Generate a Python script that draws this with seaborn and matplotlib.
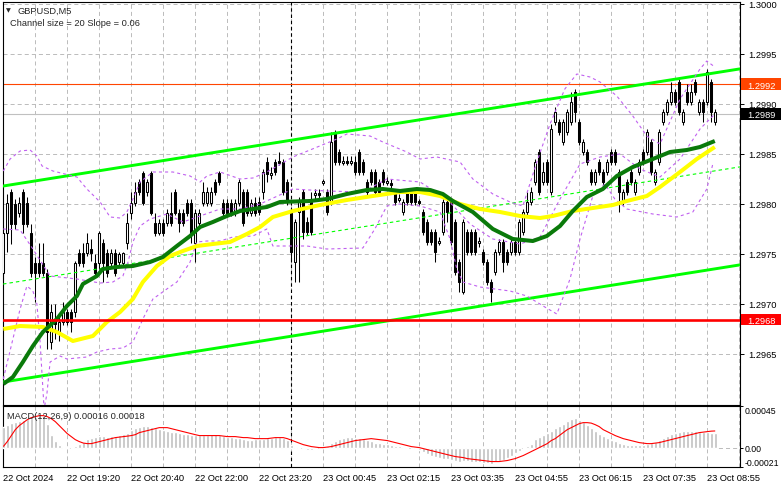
import numpy as np
import matplotlib
matplotlib.use("Agg")
import matplotlib.pyplot as plt
import matplotlib.transforms as mtransforms
from matplotlib.patches import Rectangle
import seaborn as sns

# ---------------- data (GBPUSD M5) ----------------
OPEN = [1.29731, 1.29771, 1.29812, 1.29800, 1.29791, 1.29812, 1.29801, 1.29771, 1.29741, 1.29741,
        1.29741, 1.29731, 1.29662, 1.29685, 1.29670, 1.29682, 1.29692, 1.29692, 1.29692, 1.29751,
        1.29751, 1.29751, 1.29755, 1.29741, 1.29741, 1.29761, 1.29751, 1.29741, 1.29751, 1.29742,
        1.29741, 1.29761, 1.29791, 1.29801, 1.29822, 1.29831, 1.29812, 1.29831, 1.29781, 1.29771,
        1.29781, 1.29781, 1.29791, 1.29812, 1.29791, 1.29791, 1.29801, 1.29801, 1.29761, 1.29781,
        1.29801, 1.29801, 1.29801, 1.29822, 1.29831, 1.29801, 1.29801, 1.29801, 1.29791, 1.29801,
        1.29812, 1.29812, 1.29791, 1.29801, 1.29802, 1.29812, 1.29842, 1.29829, 1.29842, 1.29843,
        1.29842, 1.29822, 1.29792, 1.29742, 1.29792, 1.29812, 1.29782, 1.29802, 1.29809, 1.29811,
        1.29821, 1.29812, 1.29802, 1.29872, 1.29852, 1.29841, 1.29843, 1.29841, 1.29842, 1.29852,
        1.29842, 1.29822, 1.29832, 1.29832, 1.29822, 1.29832, 1.29821, 1.29821, 1.29812, 1.29804,
        1.29792, 1.29812, 1.29812, 1.29812, 1.29803, 1.29792, 1.29782, 1.29772, 1.29772, 1.29761,
        1.29772, 1.29802, 1.29802, 1.29782, 1.29742, 1.29712, 1.29772, 1.29772, 1.29772, 1.29761,
        1.29752, 1.29742, 1.29722, 1.29732, 1.29752, 1.29762, 1.29752, 1.29752, 1.29762, 1.29752,
        1.29772, 1.29792, 1.29802, 1.29822, 1.29852, 1.29822, 1.29842, 1.29812, 1.29882, 1.29882,
        1.29862, 1.29872, 1.29882, 1.29912, 1.29882, 1.29852, 1.29852, 1.29832, 1.29822, 1.29842,
        1.29832, 1.29832, 1.29852, 1.29852, 1.29832, 1.29802, 1.29822, 1.29832, 1.29812, 1.29832,
        1.29852, 1.29852, 1.29862, 1.29822, 1.29842, 1.29882, 1.29892, 1.29902, 1.29912, 1.29922,
        1.29882, 1.29912, 1.29902, 1.29922, 1.29892, 1.29902, 1.29902, 1.29922, 1.29882]
HIGH = [1.29779, 1.29810, 1.29815, 1.29805, 1.29807, 1.29815, 1.29807, 1.29780, 1.29747, 1.29761,
        1.29761, 1.29735, 1.29700, 1.29700, 1.29690, 1.29702, 1.29695, 1.29695, 1.29743, 1.29755,
        1.29761, 1.29771, 1.29765, 1.29750, 1.29773, 1.29765, 1.29755, 1.29755, 1.29755, 1.29752,
        1.29752, 1.29791, 1.29812, 1.29822, 1.29825, 1.29833, 1.29825, 1.29833, 1.29791, 1.29785,
        1.29785, 1.29795, 1.29812, 1.29815, 1.29795, 1.29795, 1.29805, 1.29805, 1.29795, 1.29795,
        1.29822, 1.29817, 1.29817, 1.29825, 1.29833, 1.29805, 1.29805, 1.29805, 1.29805, 1.29825,
        1.29815, 1.29815, 1.29805, 1.29807, 1.29807, 1.29835, 1.29847, 1.29837, 1.29845, 1.29852,
        1.29845, 1.29825, 1.29797, 1.29785, 1.29807, 1.29815, 1.29787, 1.29812, 1.29815, 1.29815,
        1.29825, 1.29815, 1.29872, 1.29874, 1.29855, 1.29848, 1.29848, 1.29848, 1.29848, 1.29855,
        1.29845, 1.29825, 1.29835, 1.29835, 1.29825, 1.29835, 1.29827, 1.29825, 1.29815, 1.29810,
        1.29805, 1.29815, 1.29815, 1.29815, 1.29805, 1.29795, 1.29785, 1.29775, 1.29775, 1.29767,
        1.29805, 1.29805, 1.29805, 1.29785, 1.29745, 1.29785, 1.29775, 1.29775, 1.29775, 1.29767,
        1.29755, 1.29745, 1.29725, 1.29755, 1.29765, 1.29765, 1.29755, 1.29765, 1.29765, 1.29785,
        1.29795, 1.29812, 1.29817, 1.29845, 1.29855, 1.29842, 1.29845, 1.29880, 1.29897, 1.29885,
        1.29885, 1.29895, 1.29912, 1.29915, 1.29885, 1.29865, 1.29855, 1.29835, 1.29835, 1.29845,
        1.29835, 1.29845, 1.29855, 1.29855, 1.29835, 1.29815, 1.29825, 1.29835, 1.29825, 1.29845,
        1.29855, 1.29875, 1.29865, 1.29835, 1.29875, 1.29895, 1.29905, 1.29922, 1.29915, 1.29925,
        1.29895, 1.29920, 1.29920, 1.29925, 1.29905, 1.29905, 1.29935, 1.29925, 1.29895]
LOW = [1.29725, 1.29752, 1.29760, 1.29775, 1.29787, 1.29771, 1.29777, 1.29727, 1.29702, 1.29727,
       1.29728, 1.29655, 1.29655, 1.29665, 1.29663, 1.29679, 1.29679, 1.29672, 1.29687, 1.29738,
       1.29737, 1.29748, 1.29743, 1.29728, 1.29735, 1.29722, 1.29727, 1.29737, 1.29728, 1.29739,
       1.29739, 1.29755, 1.29785, 1.29798, 1.29809, 1.29799, 1.29808, 1.29789, 1.29768, 1.29769,
       1.29768, 1.29778, 1.29778, 1.29789, 1.29772, 1.29778, 1.29788, 1.29761, 1.29742, 1.29778,
       1.29798, 1.29798, 1.29798, 1.29809, 1.29819, 1.29788, 1.29788, 1.29788, 1.29788, 1.29798,
       1.29778, 1.29788, 1.29788, 1.29788, 1.29789, 1.29805, 1.29822, 1.29825, 1.29829, 1.29839,
       1.29809, 1.29799, 1.29742, 1.29722, 1.29722, 1.29765, 1.29769, 1.29769, 1.29805, 1.29805,
       1.29819, 1.29789, 1.29799, 1.29839, 1.29839, 1.29839, 1.29839, 1.29839, 1.29829, 1.29829,
       1.29829, 1.29809, 1.29819, 1.29809, 1.29809, 1.29819, 1.29819, 1.29815, 1.29799, 1.29802,
       1.29789, 1.29799, 1.29799, 1.29799, 1.29799, 1.29769, 1.29759, 1.29759, 1.29742, 1.29759,
       1.29769, 1.29782, 1.29759, 1.29729, 1.29712, 1.29710, 1.29749, 1.29749, 1.29749, 1.29757,
       1.29739, 1.29719, 1.29702, 1.29729, 1.29749, 1.29732, 1.29739, 1.29749, 1.29749, 1.29749,
       1.29769, 1.29789, 1.29799, 1.29819, 1.29809, 1.29819, 1.29819, 1.29809, 1.29879, 1.29869,
       1.29859, 1.29869, 1.29879, 1.29882, 1.29859, 1.29849, 1.29839, 1.29819, 1.29819, 1.29829,
       1.29819, 1.29829, 1.29839, 1.29839, 1.29792, 1.29799, 1.29809, 1.29819, 1.29809, 1.29829,
       1.29839, 1.29849, 1.29829, 1.29819, 1.29839, 1.29879, 1.29889, 1.29899, 1.29899, 1.29889,
       1.29879, 1.29899, 1.29899, 1.29909, 1.29889, 1.29882, 1.29899, 1.29882, 1.29879]
CLOSE = [1.29771, 1.29801, 1.29780, 1.29780, 1.29801, 1.29780, 1.29780, 1.29731, 1.29731, 1.29731,
         1.29731, 1.29672, 1.29692, 1.29680, 1.29682, 1.29692, 1.29682, 1.29682, 1.29741, 1.29741,
         1.29741, 1.29761, 1.29751, 1.29731, 1.29771, 1.29741, 1.29731, 1.29751, 1.29731, 1.29750,
         1.29751, 1.29781, 1.29801, 1.29812, 1.29812, 1.29801, 1.29822, 1.29791, 1.29771, 1.29781,
         1.29771, 1.29791, 1.29781, 1.29791, 1.29781, 1.29781, 1.29791, 1.29771, 1.29791, 1.29791,
         1.29812, 1.29812, 1.29812, 1.29812, 1.29822, 1.29791, 1.29791, 1.29791, 1.29801, 1.29822,
         1.29781, 1.29791, 1.29801, 1.29791, 1.29792, 1.29832, 1.29830, 1.29831, 1.29832, 1.29841,
         1.29812, 1.29802, 1.29752, 1.29782, 1.29802, 1.29772, 1.29772, 1.29772, 1.29811, 1.29809,
         1.29823, 1.29792, 1.29862, 1.29842, 1.29842, 1.29843, 1.29841, 1.29843, 1.29832, 1.29832,
         1.29832, 1.29812, 1.29822, 1.29812, 1.29812, 1.29822, 1.29823, 1.29819, 1.29802, 1.29806,
         1.29802, 1.29802, 1.29802, 1.29802, 1.29801, 1.29772, 1.29762, 1.29762, 1.29752, 1.29763,
         1.29802, 1.29792, 1.29762, 1.29732, 1.29722, 1.29782, 1.29752, 1.29752, 1.29752, 1.29763,
         1.29742, 1.29722, 1.29712, 1.29752, 1.29762, 1.29742, 1.29742, 1.29762, 1.29752, 1.29782,
         1.29792, 1.29802, 1.29812, 1.29842, 1.29812, 1.29832, 1.29822, 1.29875, 1.29892, 1.29872,
         1.29882, 1.29892, 1.29902, 1.29892, 1.29862, 1.29862, 1.29842, 1.29822, 1.29832, 1.29832,
         1.29822, 1.29842, 1.29842, 1.29842, 1.29812, 1.29812, 1.29812, 1.29822, 1.29822, 1.29842,
         1.29842, 1.29872, 1.29832, 1.29832, 1.29872, 1.29892, 1.29902, 1.29912, 1.29902, 1.29892,
         1.29892, 1.29902, 1.29912, 1.29912, 1.29902, 1.29892, 1.29932, 1.29892, 1.29892]

# moving averages (bar position, price)
MA_GREEN_X = [0, 2.4, 4.9, 7.4, 9.9, 13.4, 15.9, 18.4, 19.9, 23.4, 24.9, 28.4, 32.4, 36.7, 39.9, 43.4,
              46.7, 49.2, 52.4, 55.9, 59.2, 62.4, 65.9, 69.2, 76.7, 80.9, 85.9, 90.9, 94.9, 99.2, 103.4,
              106.7, 109.9, 112.4, 117.4, 122.4, 127.4, 132.4, 135.9, 139.2, 142.4, 145.9, 149.9, 153.4,
              157.4, 162.4, 166.7, 170.9, 174.2, 177.9]
MA_GREEN = [1.29620, 1.29627, 1.29642, 1.29658, 1.29672, 1.29685, 1.29698, 1.29708, 1.29720, 1.29728,
            1.29735, 1.29737, 1.29738, 1.29742, 1.29747, 1.29758, 1.29768, 1.29777, 1.29782, 1.29788,
            1.29793, 1.29795, 1.29797, 1.29802, 1.29803, 1.29805, 1.29810, 1.29814, 1.29815, 1.29813,
            1.29815, 1.29814, 1.29810, 1.29803, 1.29792, 1.29775, 1.29765, 1.29763, 1.29768, 1.29778,
            1.29793, 1.29807, 1.29815, 1.29828, 1.29837, 1.29845, 1.29852, 1.29854, 1.29857, 1.29863]
MA_YELLOW_X = [0, 4.2, 9.9, 13.4, 17.4, 22.4, 25.9, 29.2, 32.4, 34.9, 38.4, 41.7, 44.9, 48.4, 52.4,
               56.7, 60.9, 64.2, 67.4, 72.4, 79.2, 85.9, 92.4, 99.2, 104.2, 109.2, 114.2, 119.2, 124.2,
               129.2, 134.2, 137.4, 142.4, 147.4, 152.4, 155.9, 160.9, 164.2, 169.2, 173.4, 177.9]
MA_YELLOW = [1.29675, 1.29678, 1.29677, 1.29672, 1.29663, 1.29668, 1.29682, 1.29692, 1.29705, 1.29722,
             1.29738, 1.29748, 1.29753, 1.29758, 1.29760, 1.29762, 1.29770, 1.29777, 1.29787, 1.29793,
             1.29799, 1.29804, 1.29808, 1.29812, 1.29812, 1.29808, 1.29800, 1.29795, 1.29792, 1.29788,
             1.29786, 1.29788, 1.29793, 1.29796, 1.29799, 1.29803, 1.29808, 1.29817, 1.29832, 1.29845,
             1.29857]

# bands (purple dashed)
BAND_UP_X = [0, 1.7, 4.2, 6.7, 8.4, 9.7, 12.4, 18.4, 20.9, 24.2, 26.7, 29.2, 30.9, 32.4, 34.2, 37.4,
             42.4, 46.7, 49.2, 50.9, 54.2, 59.2, 62.4, 65.9, 72.4, 83.4, 85.9, 91.7, 94.9, 100.9, 104.2,
             108.4, 114.2, 117.4, 122.4, 126.7, 129.9, 133.4, 136.7, 140.4, 143.4, 146.7, 149.2, 153.4,
             157.4, 160.9, 164.2, 169.2, 174.2, 175.9, 177.9]
BAND_UP = [1.29833, 1.29845, 1.29853, 1.29854, 1.29848, 1.29838, 1.29833, 1.29827, 1.29815, 1.29802,
           1.29787, 1.29786, 1.29792, 1.29805, 1.29822, 1.29832, 1.29832, 1.29828, 1.29822, 1.29828,
           1.29832, 1.29825, 1.29826, 1.29832, 1.29847, 1.29865, 1.29870, 1.29868, 1.29862, 1.29852,
           1.29845, 1.29847, 1.29842, 1.29825, 1.29810, 1.29802, 1.29798, 1.29842, 1.29880, 1.29915,
           1.29930, 1.29927, 1.29922, 1.29908, 1.29888, 1.29868, 1.29860, 1.29905, 1.29935, 1.29943,
           1.29937]
BAND_MID_X = [0, 4.2, 7.4, 11.7, 18.4, 24.2, 27.4, 29.9, 31.2, 32.4, 34.2, 36.7, 40.9, 44.9, 49.2,
              54.2, 59.2, 64.2, 72.4, 80.9, 89.9, 95.9, 104.2, 110.9, 116.7, 122.4, 129.2, 134.2, 139.2,
              144.2, 149.2, 154.2, 159.2, 164.2, 169.2, 174.2, 177.9]
BAND_MID = [1.29775, 1.29774, 1.29755, 1.29728, 1.29725, 1.29721, 1.29722, 1.29728, 1.29742, 1.29762,
            1.29778, 1.29785, 1.29790, 1.29782, 1.29788, 1.29795, 1.29795, 1.29800, 1.29815, 1.29813,
            1.29812, 1.29825, 1.29822, 1.29805, 1.29780, 1.29765, 1.29760, 1.29767, 1.29805, 1.29840,
            1.29847, 1.29850, 1.29835, 1.29827, 1.29845, 1.29875, 1.29890]
BAND_LO_X = [0, 1.2, 2.4, 4.2, 5.9, 7.4, 8.4, 9.2, 10.2, 10.9, 11.7, 14.2, 15.9, 20.9, 23.4, 26.7,
             29.9, 32.4, 34.9, 37.4, 40.9, 43.4, 46.7, 48.4, 50.9, 54.2, 57.4, 62.4, 65.9, 67.4, 75.9,
             80.9, 89.9, 92.9, 95.9, 99.2, 104.2, 109.2, 111.7, 113.4, 114.9, 119.2, 126.7, 130.9,
             135.4, 138.4, 141.7, 144.2, 147.4, 150.4, 152.9, 155.9, 162.4, 168.4, 172.4, 175.9, 177.4]
BAND_LO = [1.29625, 1.29645, 1.29665, 1.29695, 1.29718, 1.29713, 1.29700, 1.29662, 1.29595, 1.29610,
           1.29642, 1.29648, 1.29645, 1.29647, 1.29652, 1.29655, 1.29656, 1.29662, 1.29685, 1.29705,
           1.29715, 1.29722, 1.29742, 1.29762, 1.29763, 1.29763, 1.29767, 1.29768, 1.29775, 1.29758,
           1.29758, 1.29755, 1.29756, 1.29775, 1.29798, 1.29800, 1.29798, 1.29792, 1.29765, 1.29735,
           1.29722, 1.29717, 1.29713, 1.29708, 1.29697, 1.29690, 1.29725, 1.29765, 1.29808, 1.29820,
           1.29805, 1.29795, 1.29790, 1.29787, 1.29792, 1.29815, 1.29840]

# equidistant channel anchors
CHANNEL_X = [0, 184]
CHANNEL_UPPER = [1.29818, 1.29935]
CHANNEL_MID = [1.29720, 1.29837]
CHANNEL_LOWER = [1.29622, 1.29739]

LEVEL_ORANGE = 1.2992
LEVEL_RED = 1.29684
BID = 1.2989
PRICE_TICKS = [1.2965, 1.2970, 1.2975, 1.2980, 1.2985, 1.2990, 1.2995, 1.3000]

# MACD(12,26,9) in units of 0.00001
MACD_HIST = [22.7, 24.8, 27.0, 28.1, 29.2, 30.2, 31.3, 32.4, 33.5, 34.6, 34.6,
             25.9, 14.0, 7.6, 3.2, 1.1, 0.5, 0, 2.2, 4.3, 6.5,
             9.7, 10.8, 11.9, 13.0, 13.0, 11.9, 13.0, 13.0, 14.0, 15.1,
             16.2, 19.4, 21.6, 22.7, 23.8, 23.8, 22.7, 21.6, 20.5, 19.4,
             18.4, 17.3, 17.3, 16.2, 15.1, 15.1, 14.0, 14.0, 14.0, 14.0,
             14.0, 15.1, 15.1, 14.0, 13.0, 11.9, 11.9, 10.8, 10.8, 9.7,
             8.6, 8.6, 9.7, 9.7, 9.7, 10.8, 10.8, 11.9, 11.9, 10.8,
             8.6, 3.2, 1.1, 0, -1.1, -2.2, -2.2, -1.1, 0, 1.1,
             2.2, 5.4, 7.6, 9.7, 10.8, 11.9, 11.9, 10.8, 10.8, 9.7,
             8.6, 7.6, 5.4, 5.4, 4.3, 4.3, 3.2, 2.2, 2.2, 1.1,
             0, 0, -1.1, -2.2, -4.3, -6.5, -8.6, -9.7, -10.8, -11.9,
             -11.9, -13.0, -14.0, -15.1, -14.0, -14.0, -15.1, -15.1, -15.1, -16.2,
             -16.2, -17.3, -15.1, -14.0, -13.0, -10.8, -8.6, -5.4, -3.2, 0,
             2.2, 4.3, 9.7, 11.9, 14.0, 16.2, 18.4, 21.6, 23.8, 25.9,
             29.2, 31.3, 32.4, 30.2, 28.1, 24.8, 21.6, 18.4, 15.1, 13.0,
             10.8, 8.6, 7.6, 5.4, 4.3, 3.2, 3.2, 3.2, 3.2, 3.2,
             4.3, 5.4, 6.5, 8.6, 10.8, 13.0, 15.1, 16.2, 17.3, 18.4,
             18.4, 18.4, 18.4, 17.3, 17.3, 17.3, 16.2, 16.0]
MACD_SIGNAL = [1.1, 6.5, 13.0, 19.4, 23.8, 27.0, 30.2, 32.4, 33.5, 34.6, 34.6,
               33.5, 31.3, 28.1, 23.8, 19.4, 15.1, 11.9, 8.6, 6.5, 4.9,
               4.3, 4.3, 5.4, 6.5, 7.6, 8.6, 9.7, 10.8, 11.3, 11.9,
               12.4, 13.0, 14.0, 16.2, 17.3, 18.4, 19.4, 20.5, 21.6, 21.6,
               21.6, 20.5, 19.4, 18.4, 17.3, 16.2, 15.1, 14.0, 13.0, 13.0,
               13.0, 13.0, 13.0, 13.0, 12.4, 11.9, 11.9, 11.9, 11.3, 10.8,
               10.8, 10.3, 9.7, 9.7, 9.7, 9.7, 10.3, 10.8, 10.8, 10.8,
               9.7, 8.1, 6.5, 4.9, 3.2, 2.2, 1.1, 0.5, 0, 0,
               0.5, 1.1, 2.2, 3.2, 4.3, 5.4, 6.5, 7.6, 8.1, 8.6,
               9.2, 9.7, 9.2, 8.6, 8.1, 7.6, 6.5, 5.4, 4.3, 3.2,
               2.2, 1.1, 0.5, 0, -1.1, -2.2, -3.2, -4.3, -5.4, -6.5,
               -7.6, -8.6, -9.7, -10.3, -10.8, -11.9, -12.4, -13.0, -13.5, -14.0,
               -14.6, -15.1, -15.1, -15.1, -14.6, -14.0, -13.0, -11.9, -10.3, -8.6,
               -6.5, -4.3, -2.2, 0, 2.2, 4.3, 7.6, 9.7, 13.0, 16.2,
               19.4, 21.6, 23.8, 25.9, 27.0, 27.0, 26.5, 24.8, 22.7, 19.4,
               17.3, 15.1, 13.0, 11.3, 9.7, 8.6, 7.6, 6.5, 5.4, 4.9,
               4.3, 4.3, 4.9, 5.4, 6.5, 7.6, 8.6, 9.7, 10.8, 11.9,
               13.0, 14.0, 15.1, 16.2, 16.7, 17.3, 17.8, 18.0]
MACD_TICKS = [0.00045, 0.0, -0.00021]
MACD_TICK_LABELS = ["0.00045", "0.00", "-0.00021"]

DATE_TICKS = [0, 16, 32, 48, 64, 80, 96, 112, 128, 144, 160, 176]
DATE_LABELS = ["22 Oct 2024", "22 Oct 19:20", "22 Oct 20:40", "22 Oct 22:00", "22 Oct 23:20",
               "23 Oct 00:45", "23 Oct 02:15", "23 Oct 03:35", "23 Oct 04:55", "23 Oct 06:15",
               "23 Oct 07:35", "23 Oct 08:55"]
DAY_SEPARATOR = 72

# ---------------- style ----------------
sns.set_style("white")
plt.rcParams['font.family'] = ['Liberation Sans', 'DejaVu Sans']
plt.rcParams['lines.scale_dashes'] = False
FS = 6.7
GRID_C = '#BBBBBB'
GRID_DASH = (0, (2.9, 2.2))
PURPLE = '#C060F0'

W, H = 781, 489
fig = plt.figure(figsize=(W / 100, H / 100), dpi=100)
fig.patch.set_facecolor('white')


def px_axes(x0, y0, x1, y1):
    return fig.add_axes([x0 / W, 1 - y1 / H, (x1 - x0) / W, (y1 - y0) / H])


ax = px_axes(3, 3, 740, 406)
axm = px_axes(3, 407, 740, 468)

n = len(CLOSE)
x = np.arange(n)
XLIM = (-0.075, 184.2)
YLIM = (1.29599, 1.30002)

for a in (ax, axm):
    a.set_xlim(*XLIM)
    a.set_facecolor('white')
    for s in a.spines.values():
        s.set_color('black')
        s.set_linewidth(0.8)
    for gx in range(8, 185, 8):
        a.axvline(gx, color=GRID_C, lw=0.7, ls=GRID_DASH, zorder=0)
    a.axvline(DAY_SEPARATOR, color='black', lw=0.8, ls=(0, (2.5, 2.0)), zorder=1)

ax.set_ylim(*YLIM)
for p in PRICE_TICKS:
    ax.axhline(p, color=GRID_C, lw=0.7, ls=GRID_DASH, zorder=0)

# level lines
ax.axhline(BID, color='#C0C0C0', lw=0.8, zorder=1)
ax.axhline(LEVEL_ORANGE, color='#FF4500', lw=0.8, zorder=2)

# candles
o = np.array(OPEN); c = np.array(CLOSE); hi = np.array(HIGH); lo = np.array(LOW)
up = c >= o
ax.vlines(x, lo, hi, color='black', linewidth=0.75, zorder=3)
ax.bar(x[up], np.maximum((c - o)[up], 1e-7), bottom=o[up], width=0.55, color='white',
       edgecolor='black', linewidth=0.75, zorder=4)
ax.bar(x[~up], np.maximum((o - c)[~up], 1e-7), bottom=c[~up], width=0.55, color='black',
       edgecolor='black', linewidth=0.75, zorder=4)


def sline(axis, xs, ys, color, lw, dash=None, z=5):
    sns.lineplot(x=xs, y=ys, ax=axis, color=color, linewidth=lw, zorder=z, sort=False)
    ln = axis.lines[-1]
    ln.set_solid_capstyle('butt')
    if dash is not None:
        ln.set_linestyle((0, dash))
    return ln


# channel
ax.axline((CHANNEL_X[0], CHANNEL_UPPER[0]), (CHANNEL_X[1], CHANNEL_UPPER[1]), color='#00FF00', lw=2.1, zorder=6)
ax.axline((CHANNEL_X[0], CHANNEL_LOWER[0]), (CHANNEL_X[1], CHANNEL_LOWER[1]), color='#00FF00', lw=2.1, zorder=6)
ax.axline((CHANNEL_X[0], CHANNEL_MID[0]), (CHANNEL_X[1], CHANNEL_MID[1]), color='#00FF00', lw=0.8,
          ls=(0, (2.5, 2.2)), zorder=6)

# bands
sline(ax, BAND_UP_X, BAND_UP, PURPLE, 0.8, dash=(2.2, 2.2), z=6)
sline(ax, BAND_MID_X, BAND_MID, PURPLE, 0.8, dash=(2.2, 2.2), z=6)
sline(ax, BAND_LO_X, BAND_LO, PURPLE, 0.8, dash=(2.2, 2.2), z=6)

# moving averages
sline(ax, MA_YELLOW_X, MA_YELLOW, '#FFFF00', 2.9, z=7)
sline(ax, MA_GREEN_X, MA_GREEN, '#0A7A0A', 2.9, z=8)

ax.axhline(LEVEL_RED, color='#FF0000', lw=1.9, zorder=9)

# right price axis
ax.yaxis.tick_right()
ax.set_yticks(PRICE_TICKS)
ax.set_yticklabels([f"{p:.4f}" for p in PRICE_TICKS])
ax.tick_params(axis='y', direction='out', length=3, width=0.7, pad=3, labelsize=FS, colors='black')
ax.tick_params(axis='x', bottom=False, labelbottom=False, top=False)
ax.set_xlabel(''); ax.set_ylabel('')

# level boxes on the price scale
trans = mtransforms.blended_transform_factory(ax.transAxes, ax.transData)
box_h = 11 * (YLIM[1] - YLIM[0]) / 403.0


def level_box(val, text, color):
    ax.add_patch(Rectangle((1.0015, val - box_h / 2), 0.0555, box_h, transform=trans,
                           facecolor=color, edgecolor='none', clip_on=False, zorder=20))
    ax.text(1.0015 + 0.0555 / 2, val, text, transform=trans, color='white', ha='center',
            va='center_baseline', fontsize=FS, clip_on=False, zorder=21)


level_box(LEVEL_ORANGE, "1.2992", '#FF4500')
level_box(BID, "1.2989", '#000000')
level_box(LEVEL_RED, "1.2968", '#FF0000')

# MACD panel
hist = np.array(MACD_HIST) * 1e-5
sig = np.array(MACD_SIGNAL) * 1e-5
axm.set_ylim(-0.00021, 0.00045)
axm.axhline(0, color=GRID_C, lw=0.7, ls=GRID_DASH, zorder=0)
axm.bar(x, hist, width=0.7, color='#C0C0C0', zorder=3)
sline(axm, list(x), list(sig), '#FF0000', 0.8, z=5)
axm.yaxis.tick_right()
axm.set_yticks(MACD_TICKS)
axm.set_yticklabels(MACD_TICK_LABELS)
axm.tick_params(axis='y', direction='out', length=2.2, width=0.7, pad=1.2, labelsize=6.3, colors='black')
labs = axm.get_yticklabels()
labs[0].set_va('top')
labs[2].set_va('bottom')
axm.set_xticks(DATE_TICKS)
axm.set_xticklabels(DATE_LABELS, ha='left')
axm.tick_params(axis='x', direction='out', length=3, width=0.7, pad=1.5, labelsize=FS, colors='black')
axm.set_xlabel(''); axm.set_ylabel('')

# texts
fig.text(6 / W, 1 - 10.5 / H, '\u25BC', fontsize=4.5, family=['DejaVu Sans'], va='center', ha='left')
fig.text(18 / W, 1 - 11 / H, 'GBPUSD,M5', fontsize=FS, va='center', ha='left')
fig.text(10 / W, 1 - 24 / H, 'Channel size = 20 Slope = 0.06', fontsize=FS, va='center', ha='left')
fig.text(7 / W, 1 - 417 / H, 'MACD(12,26,9) 0.00016 0.00018', fontsize=FS, va='center', ha='left')

fig.savefig('out.png', dpi=100, facecolor='white')
